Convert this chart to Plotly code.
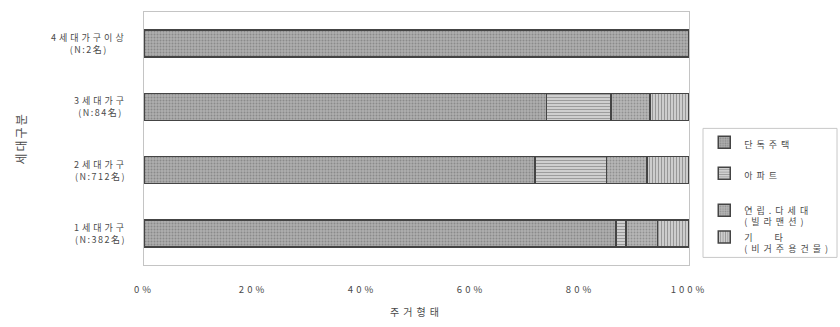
import plotly.graph_objects as go

# Household type categories (top to bottom) and respondent counts
categories = ["4세대가구이상", "3세대가구", "2세대가구", "1세대가구"]
respondents = [2, 84, 712, 382]

# Housing type counts per household type
detached = [2, 62, 511, 331]
apartment = [0, 10, 93, 7]
rowhouse = [0, 6, 53, 22]
other = [0, 6, 55, 22]

series_names = ["단독주택", "아파트", "연립.다세대<br>(빌라맨션)", "기   타<br>(비거주용건물)"]
series_values = [detached, apartment, rowhouse, other]

tick_vals = [0, 20, 40, 60, 80, 100]
tick_text = ["0%", "20%", "40%", "60%", "80%", "100%"]

FONT = "Noto Sans CJK KR"
TEXT = "#4a4a4a"

patterns = [
    dict(shape=".", size=3, solidity=0.35, fgcolor="#8a8a8a", bgcolor="#afafaf", fillmode="replace"),
    dict(shape="-", size=3, solidity=0.35, fgcolor="#9c9c9c", bgcolor="#cfcfcf", fillmode="replace"),
    dict(shape=".", size=3, solidity=0.3, fgcolor="#909090", bgcolor="#b7b7b7", fillmode="replace"),
    dict(shape="|", size=3, solidity=0.35, fgcolor="#979797", bgcolor="#cdcdcd", fillmode="replace"),
]

# One legend box per series so each entry sits at its own height
legend_ids = ["legend", "legend2", "legend3", "legend4"]
legend_y = [0.477, 0.354, 0.192, 0.086]


def spaced(s, px):
    return f'<span style="letter-spacing:{px}px">{s}</span>'


fig = go.Figure()
for name, vals, pat, lid in zip(series_names, series_values, patterns, legend_ids):
    label = "<br>".join(spaced(part, 4) for part in name.split("<br>"))
    fig.add_trace(go.Bar(
        y=categories,
        x=[v if v > 0 else None for v in vals],
        name=label,
        orientation="h",
        legend=lid,
        marker=dict(color=pat["bgcolor"], pattern=pat,
                    line=dict(color="#444444", width=1.5)),
        hoverinfo="x+y+name",
    ))

# Category labels with respondent counts, centred under each other
for cat, n in zip(categories, respondents):
    fig.add_annotation(
        x=-0.028, xref="paper", xanchor="right",
        y=cat, yref="y",
        text=spaced(cat, 3) + "<br>" + spaced(f"(N:{n}名)", 1.5),
        showarrow=False, align="center",
        font=dict(family=FONT, size=9, color=TEXT),
    )

# Vertical axis title
fig.add_annotation(
    x=-0.245, xref="paper", y=0.5, yref="paper",
    text=spaced("세대구분", 2), textangle=-90, showarrow=False,
    font=dict(family=FONT, size=12, color=TEXT),
)

# Frame around the legend entries
fig.add_shape(
    type="rect", xref="paper", yref="paper",
    x0=1.0257, x1=1.2716, y0=0.030, y1=0.540,
    line=dict(color="#c8c8c8", width=1), fillcolor="rgba(0,0,0,0)",
)

legend_common = dict(
    x=1.028, xanchor="left", yanchor="middle", valign="top",
    borderwidth=0, bgcolor="rgba(0,0,0,0)",
    font=dict(family=FONT, size=9, color=TEXT),
)

fig.update_layout(
    width=840, height=327,
    barmode="stack", barnorm="percent", bargap=0.57,
    paper_bgcolor="white", plot_bgcolor="white",
    margin=dict(l=144, r=151, t=12, b=62, autoexpand=False),
    font=dict(family=FONT, color=TEXT),
    showlegend=True,
    xaxis=dict(
        range=[0, 100], tickvals=tick_vals, ticktext=[spaced(t, 3) for t in tick_text],
        showgrid=False, zeroline=False, ticks="",
        showline=True, mirror=True, linecolor="#c4c4c4", linewidth=1,
        tickfont=dict(family=FONT, size=9.5, color=TEXT), ticklabelstandoff=16,
        title=dict(text=spaced("주거형태", 4), standoff=13,
                   font=dict(family=FONT, size=10, color=TEXT)),
    ),
    yaxis=dict(
        autorange="reversed", showticklabels=False, ticks="",
        showgrid=False, zeroline=False,
        showline=True, mirror=True, linecolor="#c4c4c4", linewidth=1,
    ),
)
for lid, ly in zip(legend_ids, legend_y):
    fig.update_layout({lid: dict(legend_common, y=ly)})

fig.write_html("out.html")
